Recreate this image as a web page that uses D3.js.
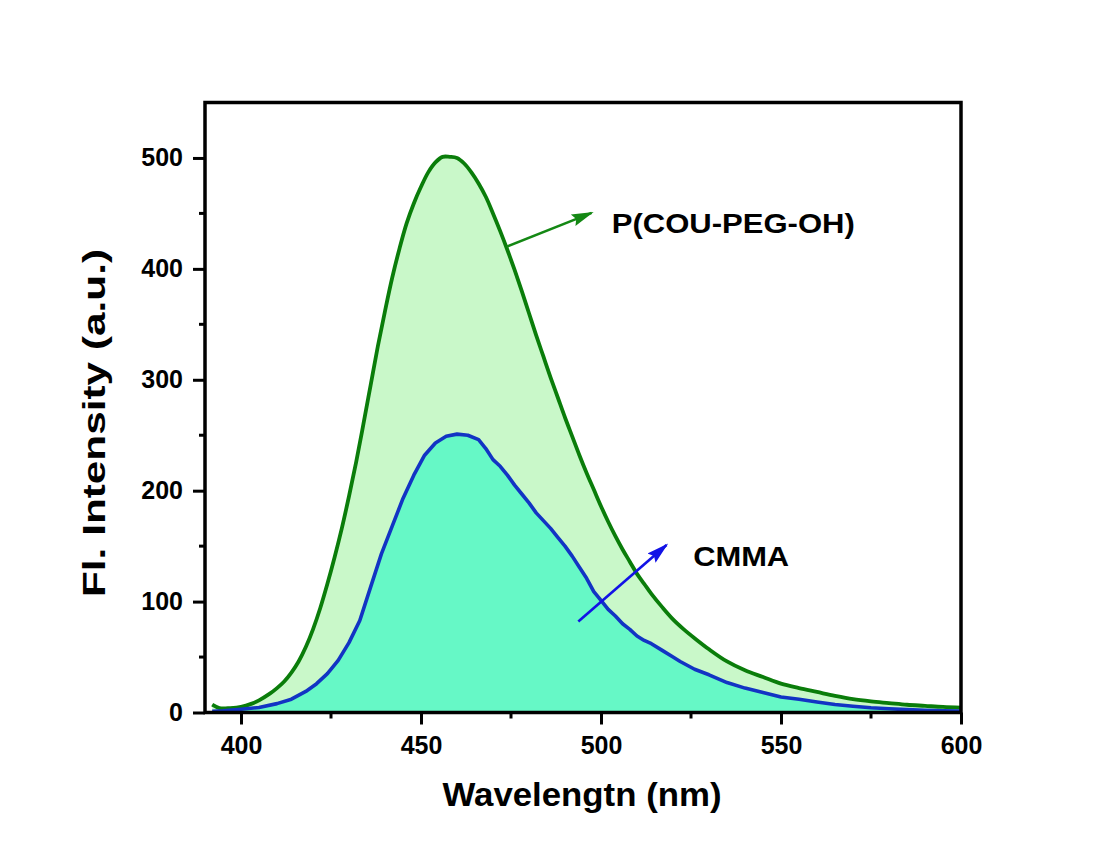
<!DOCTYPE html>
<html>
<head>
<meta charset="utf-8">
<script src="https://cdn.jsdelivr.net/npm/d3@7"></script>
<style>
	body { margin: 0; background: #fff; }
	svg text { font-family: Arial, "Liberation Sans", sans-serif; font-weight: bold; fill: #000; }
</style>
</head>
<body>
<div id="chart"></div>
<script>
	// P(COU-PEG-OH) emission
	var pegWl = [392,394,397,400,403,405,408,410,412,414,416,418,420,422,424,426,428,430,432,434,436,438,440,442,444,446,448,450,452,454,456,458,460,462,464,466,468,470,472,474,476,478,480,482,484,486,488,490,492,494,496,498,500,502,504,506,508,510,512,514,517,520,523,526,530,535,540,545,550,555,560,565,570,575,580,585,590,595,600];
	var pegInt = [7,4,4,5,8,11,17,22,28,36,46,59,75,94,116,140,166,195,226,260,295,330,362,392,418,441,459,474,487,496,501,501,500,495,487,477,465,450,434,417,399,380,360,340,321,302,284,266,249,232,216,201,186,172,159,147,136,125,116,107,95,84,75,67,57,46,38,32,26,22,18.5,15,12,10,8.5,7,6,5,4.4];

	// CMMA emission
	var cmmaWl = [392,395,400,405,410,414,418,421,424,427,430,433,436,439,442,445,448,451,454,457,460,463,466,468,470,472,474,476,478,480,482,484,486,488,490,492,494,496,498,500,502,504,506,508,510,512,514,517,520,522,526,530,535,540,545,550,555,560,565,570,575,580,585,590,595,600];
	var cmmaInt = [1,1.5,3,4.5,8,12,19,26,35,47,63,83,113,143,168,193,214,232,243,249,251,250,246,238,228,222,214,205,197,189,180,173,166,158,150,141,131,121,109,101,93,87,80,75,69,65,62,56,50,46,39,34,27,22,18,14,12,9.5,7.2,5.6,4.3,3.4,2.6,2.0,1.6,1.3];

	var xTicks = [400,450,500,550,600];
	var yTicks = [0,100,200,300,400,500];

	// arrows: [x1,y1,x2,y2] in data units
	var arrowPeg = [473.8,420,497.4,450.5];
	var arrowCmma = [493.7,82,518.2,151];
	var labels = [
		{text:'P(COU-PEG-OH)', x:503, y:432, len:243},
		{text:'CMMA', x:525.6, y:132, len:96}
	];

(function(){
	var W = 1108, H = 845;
	var mLeft = 205, mRight = 961, mTop = 102.5, mBottom = 712.5;

	var svg = d3.select('#chart').append('svg')
		.attr('width', W).attr('height', H);

	var x = d3.scaleLinear().domain([390,600]).range([mLeft,mRight]);
	var y = d3.scaleLinear().domain([0,550]).range([mBottom,mTop]);

	var pegData = pegWl.map(function(d,i){ return [d, pegInt[i]]; });
	var cmmaData = cmmaWl.map(function(d,i){ return [d, cmmaInt[i]]; });

	var area = d3.area().x(function(d){ return x(d[0]); }).y0(y(0)).y1(function(d){ return y(d[1]); });
	var line = d3.line().x(function(d){ return x(d[0]); }).y(function(d){ return y(d[1]); });

	svg.append('path').attr('d', area.curve(d3.curveCatmullRom)(pegData)).attr('fill','#c9f8c9');
	svg.append('path').attr('d', area.curve(d3.curveLinear)(cmmaData)).attr('fill','#66f8c6');
	svg.append('path').attr('d', line.curve(d3.curveCatmullRom)(pegData))
		.attr('fill','none').attr('stroke','#0a7d0a').attr('stroke-width',3.8).attr('stroke-linejoin','round');
	svg.append('path').attr('d', line.curve(d3.curveLinear)(cmmaData))
		.attr('fill','none').attr('stroke','#1234c4').attr('stroke-width',3.6).attr('stroke-linejoin','round');

	// axes
	var xAxis = d3.axisBottom(x).tickValues(xTicks).tickSize(12).tickPadding(12).tickFormat(d3.format('d'));
	var gx = svg.append('g').attr('transform','translate(0,'+mBottom+')').call(xAxis);
	var yAxis = d3.axisLeft(y).tickValues(yTicks).tickSize(12).tickPadding(10).tickFormat(d3.format('d'));
	var gy = svg.append('g').attr('transform','translate('+mLeft+',0)').call(yAxis);
	[gx,gy].forEach(function(g){
		g.select('.domain').remove();
		g.selectAll('.tick line').attr('stroke','#000').attr('stroke-width',3);
		g.selectAll('.tick text').attr('font-size',25).attr('font-family','Arial, "Liberation Sans", sans-serif').attr('font-weight','bold');
	});

	// minor ticks
	var xMinor = d3.range(425,600,50);
	svg.selectAll('.xminor').data(xMinor).enter().append('line')
		.attr('x1',function(d){ return x(d); }).attr('x2',function(d){ return x(d); })
		.attr('y1',mBottom).attr('y2',mBottom+6).attr('stroke','#000').attr('stroke-width',3);
	var yMinor = d3.range(50,550,100);
	svg.selectAll('.yminor').data(yMinor).enter().append('line')
		.attr('y1',function(d){ return y(d); }).attr('y2',function(d){ return y(d); })
		.attr('x1',mLeft-6).attr('x2',mLeft).attr('stroke','#000').attr('stroke-width',3);

	// frame
	svg.append('rect').attr('x',mLeft).attr('y',mTop).attr('width',mRight-mLeft).attr('height',mBottom-mTop)
		.attr('fill','none').attr('stroke','#000').attr('stroke-width',3.5);

	// annotation arrows
	var defs = svg.append('defs');
	function marker(id, col){
		defs.append('marker').attr('id',id).attr('viewBox','0 0 10 10').attr('refX',9).attr('refY',5)
			.attr('markerWidth',8.5).attr('markerHeight',8.5).attr('orient','auto').attr('markerUnits','strokeWidth')
			.append('path').attr('d','M0,2.2L10,5L0,7.8L1.5,5Z').attr('fill',col);
	}
	marker('ag','#148814');
	marker('ab','#1212e6');
	function arrow(a, col, id){
		svg.append('line').attr('x1',x(a[0])).attr('y1',y(a[1])).attr('x2',x(a[2])).attr('y2',y(a[3]))
			.attr('stroke',col).attr('stroke-width',2.6).attr('marker-end','url(#'+id+')');
	}
	arrow(arrowPeg,'#148814','ag');
	arrow(arrowCmma,'#1212e6','ab');

	svg.selectAll('.lbl').data(labels).enter().append('text')
		.attr('x',function(d){ return x(d.x); }).attr('y',function(d){ return y(d.y); })
		.attr('font-size',27).attr('textLength',function(d){ return d.len; })
		.attr('lengthAdjust','spacingAndGlyphs')
		.text(function(d){ return d.text; });

	// axis titles
	svg.append('text').attr('x',(mLeft+mRight)/2 - 1).attr('y',806).attr('text-anchor','middle')
		.attr('font-size',34).attr('textLength',279).attr('lengthAdjust','spacingAndGlyphs')
		.text('Wavelengtn (nm)');
	svg.append('text').attr('transform','translate(105,423) rotate(-90)').attr('text-anchor','middle')
		.attr('font-size',32).attr('textLength',348).attr('lengthAdjust','spacingAndGlyphs')
		.text('Fl. Intensity (a.u.)');
})();
</script>
</body>
</html>
